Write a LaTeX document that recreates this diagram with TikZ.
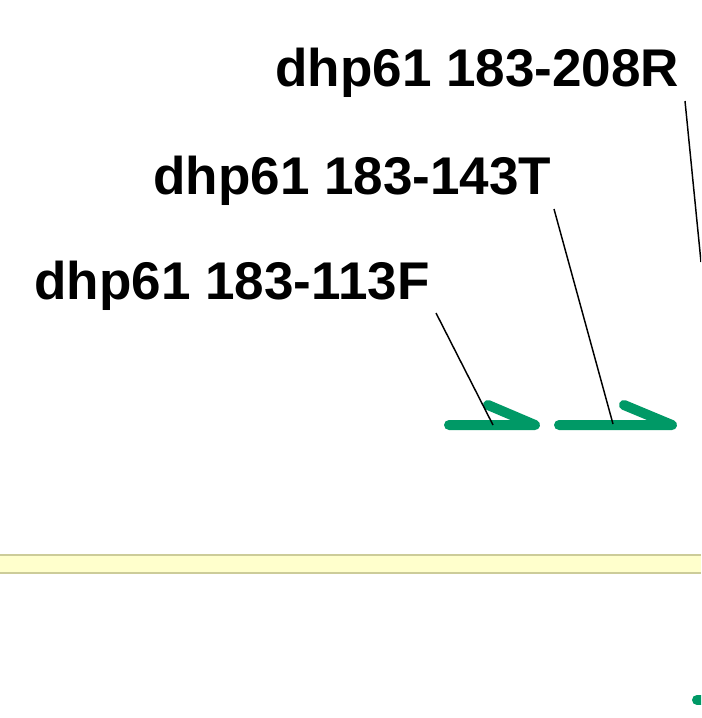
\documentclass[tikz,border=0pt]{standalone}
\usepackage{fontspec}
\setmainfont{Liberation Sans}
\definecolor{arrowgreen}{RGB}{0,153,102}
\definecolor{bandfill}{RGB}{255,255,204}
\definecolor{bandline}{RGB}{204,204,153}
\begin{document}
\begin{tikzpicture}[x=0.75pt,y=-0.75pt,
  lbl/.style={font=\fontsize{39.8}{44}\selectfont\bfseries, inner sep=0pt, anchor=base west},
  leader/.style={draw=black, line width=1.1pt},
  garrow/.style={draw=arrowgreen, line width=7.5pt, line cap=round, line join=round}]
\useasboundingbox (0,0) rectangle (701,718);
\clip (0,0) rectangle (701,718);
\fill[white] (0,0) rectangle (701,718);
% yellow band
\fill[bandfill] (0,554) rectangle (701,574);
\draw[bandline, line width=1.5pt] (0,555) -- (701,555);
\draw[bandline, line width=1.5pt] (0,573) -- (701,573);
% labels
\node[lbl] (r) at (275,86) {dhp61 183-208R};
\node[lbl] (t) at (153,194) {dhp61 183-143T};
\node[lbl] (f) at (34,299) {dhp61 183-113F};
% leader endpoints
\coordinate (fs) at (436,313);
\coordinate (fe) at (493,425);
\coordinate (ts) at (554,209);
\coordinate (te) at (613,424);
\coordinate (rs) at (685,101);
\coordinate (re) at (701,262);
% green arrows
\coordinate (a1s) at (449,425);
\coordinate (a1e) at (535,425);
\coordinate (a1b) at (488,405);
\coordinate (a2s) at (559,425);
\coordinate (a2e) at (672,425);
\coordinate (a2b) at (624,405);
\draw[garrow] (a1s) -- (a1e) -- (a1b);
\draw[garrow] (a2s) -- (a2e) -- (a2b);
\coordinate (a3s) at (697,700);
\coordinate (a3e) at (720,700);
\draw[garrow] (a3s) -- (a3e);
% leaders
\draw[leader] (fs) -- (fe);
\draw[leader] (ts) -- (te);
\draw[leader] (rs) -- (re);
\end{tikzpicture}
\end{document}
